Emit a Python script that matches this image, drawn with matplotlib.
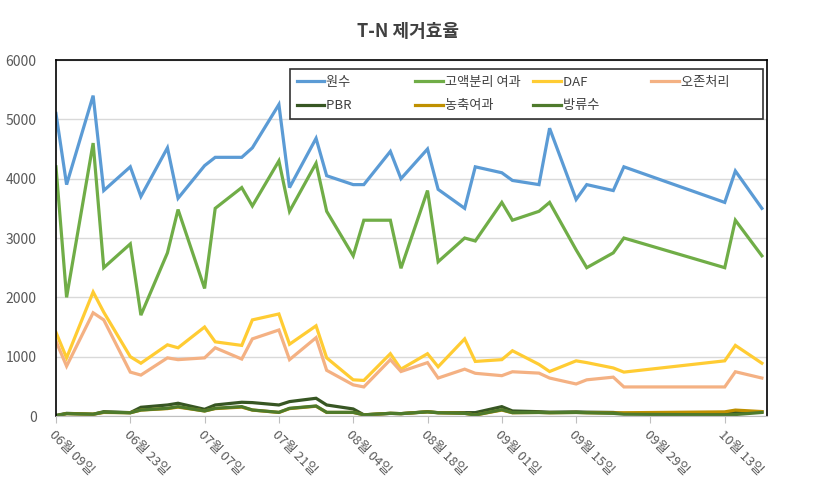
import numpy as np
import matplotlib
matplotlib.use('Agg')
import matplotlib.pyplot as plt
import matplotlib.dates as mdates

plt.rcParams['font.family'] = ['Noto Sans CJK KR', 'DejaVu Sans']

# 측정 날짜
dates = ['2014-06-09', '2014-06-11', '2014-06-16', '2014-06-18', '2014-06-23', '2014-06-25',
         '2014-06-30', '2014-07-02', '2014-07-07', '2014-07-09', '2014-07-14', '2014-07-16',
         '2014-07-21', '2014-07-23', '2014-07-28', '2014-07-30', '2014-08-04', '2014-08-06',
         '2014-08-11', '2014-08-13', '2014-08-18', '2014-08-20', '2014-08-25', '2014-08-27',
         '2014-09-01', '2014-09-03', '2014-09-08', '2014-09-10', '2014-09-15', '2014-09-17',
         '2014-09-22', '2014-09-24', '2014-10-13', '2014-10-15', '2014-10-20']

raw = [5100, 3900, 5400, 3800, 4200, 3700, 4520, 3670, 4220, 4360, 4360, 4520, 5250, 3850,
       4680, 4050, 3900, 3900, 4460, 4000, 4500, 3820, 3500, 4200, 4100, 3970, 3900, 4850,
       3650, 3900, 3800, 4200, 3600, 4130, 3500]
sep_filter = [4200, 2000, 4600, 2500, 2900, 1700, 2750, 3480, 2150, 3500, 3850, 3540, 4300, 3450,
              4260, 3450, 2700, 3300, 3300, 2490, 3800, 2600, 3000, 2950, 3600, 3300, 3450, 3600,
              2800, 2500, 2750, 3000, 2500, 3300, 2700]
daf = [1410, 980, 2090, 1750, 1000, 890, 1200, 1150, 1500, 1250, 1190, 1620, 1720, 1210,
       1520, 980, 610, 600, 1050, 790, 1050, 830, 1300, 920, 950, 1100, 870, 750,
       930, 900, 810, 740, 930, 1190, 890]
ozone = [1260, 840, 1740, 1620, 740, 690, 980, 950, 980, 1150, 960, 1300, 1450, 950,
         1320, 770, 525, 490, 950, 750, 900, 640, 790, 720, 680, 746, 723, 640,
         540, 610, 655, 490, 490, 746, 640]
pbr = [10, 45, 30, 73, 57, 147, 186, 215, 113, 186, 232, 226, 186, 243, 299, 186, 119, 20,
       45, 40, 73, 57, 57, 57, 158, 85, 73, 65, 70, 65, 60, 45, 40, 60, 70]
conc_filter = [0, 40, 30, 60, 55, 100, 125, 150, 85, 125, 150, 100, 60, 125, 165, 60, 60, 20,
               45, 40, 70, 55, 45, 17, 100, 55, 60, 55, 60, 55, 50, 55, 70, 100, 75]
effluent = [5, 40, 30, 65, 55, 102, 130, 158, 85, 130, 158, 102, 62, 130, 169, 62, 62, 20,
            45, 40, 70, 55, 45, 17, 107, 57, 60, 55, 60, 55, 45, 30, 20, 25, 60]

names = ['원수', '고액분리 여과', 'DAF', '오존처리', 'PBR', '농축여과', '방류수']
colors = ['#5B9BD5', '#70AD47', '#FFCC33', '#F4B183', '#375623', '#BF9000', '#4E7A2C']

x = np.array(dates, dtype='datetime64[D]')
series = [raw, sep_filter, daf, ozone, pbr, conc_filter, effluent]

fig = plt.figure(figsize=(8.16, 4.86), dpi=100)
ax = fig.add_axes([0.0686, 0.144, 0.8716, 0.7325])

lines = []
for vals, name, c in zip(series, names, colors):
    ln, = ax.plot(x, vals, color=c, lw=2.3, label=name, solid_joinstyle='miter')
    lines.append(ln)

ax.set_ylim(0, 6000)
ax.set_yticks(range(0, 6001, 1000))
ax.set_xlim(x[0], x[-1] + np.timedelta64(1, 'D'))
ticks = np.arange(x[0], x[-1], np.timedelta64(14, 'D'))
ax.set_xticks(ticks)
ax.xaxis.set_major_formatter(mdates.DateFormatter('%m월 %d일'))
for lab in ax.get_xticklabels():
    lab.set_rotation(-45)
    lab.set_ha('left')
    lab.set_rotation_mode('anchor')

ax.grid(axis='y', color='#D9D9D9', lw=1)
ax.set_axisbelow(True)
ax.tick_params(axis='y', length=0, labelsize=10, labelcolor='#595959', pad=14)
ax.tick_params(axis='x', length=5, color='#BFBFBF', labelsize=9.5, labelcolor='#595959', pad=4)
for side in ['left', 'right', 'top']:
    ax.spines[side].set_color('black')
    ax.spines[side].set_linewidth(1.2)
ax.spines['bottom'].set_color('#BFBFBF')

# 범례: 행 우선 순서로 채우기 위해 열 순서로 재배치
order = [0, 4, 1, 5, 2, 6, 3]
leg = ax.legend([lines[i] for i in order], [names[i] for i in order],
                ncol=4, loc='upper left', bbox_to_anchor=(0.329, 0.836, 0.665, 0.138),
                mode='expand', borderaxespad=0, fontsize=9.5, handlelength=2.1,
                handletextpad=0.15, labelspacing=0.8, borderpad=0.5,
                frameon=True, fancybox=False, labelcolor='#404040')
leg.get_frame().set_edgecolor('black')
leg.get_frame().set_linewidth(1.2)

# 열 간격을 균등하게: 모든 라벨을 가장 긴 라벨 폭만큼 공백으로 채움
renderer = fig.canvas.get_renderer()
widths = [t.get_window_extent(renderer).width for t in leg.get_texts()]
target = max(widths)
for t in leg.get_texts():
    s = t.get_text()
    while t.get_window_extent(renderer).width < target - 2:
        s += ' '
        t.set_text(s)

fig.suptitle('T-N 제거효율', y=0.955, fontsize=13, fontweight='bold', color='#404040')

fig.savefig('out.png', dpi=100)
